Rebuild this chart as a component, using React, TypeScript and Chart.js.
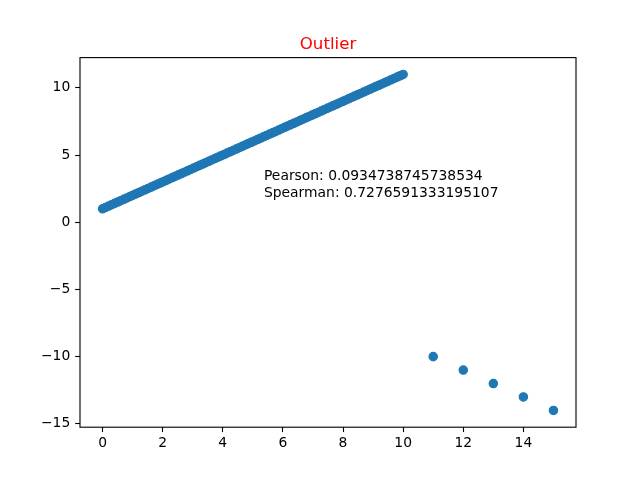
import React, { useEffect, useRef } from "react";
import { Chart, registerables } from "chart.js";

Chart.register(...registerables);

const titleText = "Outlier";
const annotationLines = ["Pearson: 0.0934738745738534", "Spearman: 0.7276591333195107"];
const annotationAt = { x: 5.37, y: 2 };

const lineX = [
  0, 0.101, 0.202, 0.303, 0.404, 0.505, 0.606, 0.707, 0.808, 0.909,
  1.01, 1.111, 1.212, 1.313, 1.414, 1.515, 1.616, 1.717, 1.818, 1.919,
  2.02, 2.121, 2.222, 2.323, 2.424, 2.525, 2.626, 2.727, 2.828, 2.929,
  3.03, 3.131, 3.232, 3.333, 3.434, 3.535, 3.636, 3.737, 3.838, 3.939,
  4.04, 4.141, 4.242, 4.343, 4.444, 4.545, 4.646, 4.747, 4.848, 4.949,
  5.051, 5.152, 5.253, 5.354, 5.455, 5.556, 5.657, 5.758, 5.859, 5.96,
  6.061, 6.162, 6.263, 6.364, 6.465, 6.566, 6.667, 6.768, 6.869, 6.97,
  7.071, 7.172, 7.273, 7.374, 7.475, 7.576, 7.677, 7.778, 7.879, 7.98,
  8.081, 8.182, 8.283, 8.384, 8.485, 8.586, 8.687, 8.788, 8.889, 8.99,
  9.091, 9.192, 9.293, 9.394, 9.495, 9.596, 9.697, 9.798, 9.899, 10.0,
];
const lineY = [
  1, 1.101, 1.202, 1.303, 1.404, 1.505, 1.606, 1.707, 1.808, 1.909,
  2.01, 2.111, 2.212, 2.313, 2.414, 2.515, 2.616, 2.717, 2.818, 2.919,
  3.02, 3.121, 3.222, 3.323, 3.424, 3.525, 3.626, 3.727, 3.828, 3.929,
  4.03, 4.131, 4.232, 4.333, 4.434, 4.535, 4.636, 4.737, 4.838, 4.939,
  5.04, 5.141, 5.242, 5.343, 5.444, 5.545, 5.646, 5.747, 5.848, 5.949,
  6.051, 6.152, 6.253, 6.354, 6.455, 6.556, 6.657, 6.758, 6.859, 6.96,
  7.061, 7.162, 7.263, 7.364, 7.465, 7.566, 7.667, 7.768, 7.869, 7.97,
  8.071, 8.172, 8.273, 8.374, 8.475, 8.576, 8.677, 8.778, 8.879, 8.98,
  9.081, 9.182, 9.283, 9.384, 9.485, 9.586, 9.687, 9.788, 9.889, 9.99,
  10.091, 10.192, 10.293, 10.394, 10.495, 10.596, 10.697, 10.798, 10.899, 11.0,
];
const outlierX = [11, 12, 13, 14, 15];
const outlierY = [-10, -11, -12, -13, -14];

const xTicks = [0, 2, 4, 6, 8, 10, 12, 14];
const yTicks = [-15, -10, -5, 0, 5, 10];
const xRange = { min: -0.75, max: 15.75 };
const yRange = { min: -15.25, max: 12.25 };

const FONT = "'DejaVu Sans', sans-serif";
const BLUE = "#1f77b4";

const overlayPlugin = {
  id: "overlay",
  afterDatasetsDraw(chart: any) {
    const { ctx, chartArea, scales } = chart;
    ctx.save();
    ctx.strokeStyle = "#000";
    ctx.lineWidth = 1.11;
    ctx.strokeRect(chartArea.left, chartArea.top, chartArea.right - chartArea.left, chartArea.bottom - chartArea.top);
    ctx.fillStyle = "#ff0000";
    ctx.font = `16.67px ${FONT}`;
    ctx.textAlign = "center";
    ctx.textBaseline = "alphabetic";
    ctx.fillText(titleText, (chartArea.left + chartArea.right) / 2, chartArea.top - 8.33);
    ctx.fillStyle = "#000";
    ctx.font = `13.89px ${FONT}`;
    ctx.textAlign = "left";
    const px = scales.x.getPixelForValue(annotationAt.x);
    const py = scales.y.getPixelForValue(annotationAt.y) + 1.5;
    const lh = 16.67;
    const n = annotationLines.length;
    annotationLines.forEach((t, i) => {
      ctx.fillText(t, px, py - (n - 1 - i) * lh);
    });
    ctx.restore();
  },
};

export default function App() {
  const ref = useRef<HTMLCanvasElement>(null);
  useEffect(() => {
    if (!ref.current) return;
    const mainData = lineX.map((x, i) => ({ x, y: lineY[i] }));
    const outData = outlierX.map((x, i) => ({ x, y: outlierY[i] }));
    const tickFont = { family: FONT, size: 13.89 };
    const chart = new Chart(ref.current, {
      type: "scatter",
      data: {
        datasets: [
          {
            data: [...mainData, ...outData],
            backgroundColor: BLUE,
            borderColor: BLUE,
            borderWidth: 1.2,
            pointRadius: 4.17,
            pointHoverRadius: 4.17,
          },
        ],
      },
      options: {
        animation: false,
        responsive: false,
        events: [],
        layout: { padding: { top: 57.6, right: 64, left: 0, bottom: 0 } },
        plugins: { legend: { display: false }, tooltip: { enabled: false }, title: { display: false } },
        scales: {
          x: {
            type: "linear",
            min: xRange.min,
            max: xRange.max,
            afterBuildTicks: (s: any) => {
              s.ticks = xTicks.map((v) => ({ value: v }));
            },
            afterFit: (s: any) => {
              s.height = 52.8;
            },
            grid: { drawOnChartArea: false, drawTicks: true, tickLength: 4.86, tickWidth: 1.11, tickColor: "#000" },
            border: { display: false },
            ticks: { color: "#000", font: tickFont, padding: 3.5, maxRotation: 0, callback: (v: any) => String(v) },
          },
          y: {
            type: "linear",
            min: yRange.min,
            max: yRange.max,
            afterBuildTicks: (s: any) => {
              s.ticks = yTicks.map((v) => ({ value: v }));
            },
            afterFit: (s: any) => {
              s.width = 80;
            },
            grid: { drawOnChartArea: false, drawTicks: true, tickLength: 4.86, tickWidth: 1.11, tickColor: "#000" },
            border: { display: false },
            ticks: {
              color: "#000",
              font: tickFont,
              padding: 4.86,
              callback: (v: any) => (v < 0 ? "\u2212" + String(-v) : String(v)),
            },
          },
        },
      },
      plugins: [overlayPlugin],
    } as any);
    return () => chart.destroy();
  }, []);
  return (
    <div style={{ position: "fixed", left: 0, top: 0, width: 640, height: 480, background: "#fff" }}>
      <canvas ref={ref} width={640} height={480} style={{ width: 640, height: 480 }} />
    </div>
  );
}
